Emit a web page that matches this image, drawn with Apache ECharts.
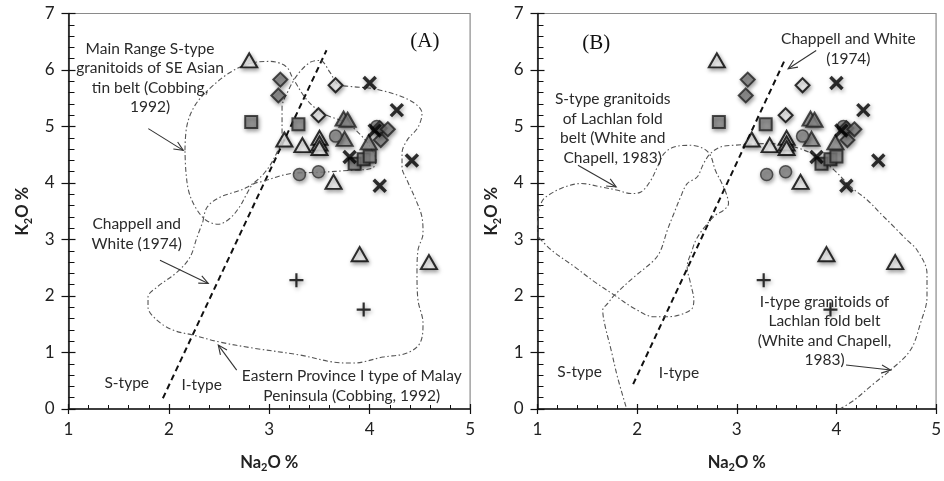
<!DOCTYPE html>
<html><head><meta charset="utf-8">
<script src="https://cdn.jsdelivr.net/npm/echarts@6/dist/echarts.min.js"></script>
<style>html,body{margin:0;padding:0;background:#fff}#c{width:944px;height:481px}</style>
</head><body><div id="c"></div>
<script>
// ---------- data (Na2O %, K2O %) ----------
const openTriangles = [[2.80,6.17],[3.15,4.77],[3.33,4.67],[3.50,4.80],[3.50,4.70],[3.50,4.62],[3.64,4.02],[3.90,2.74],[4.59,2.60]];
const grayTriangles = [[3.74,5.14],[3.78,5.12],[3.75,4.78],[3.99,4.72]];
const grayDiamonds = [[3.11,5.83],[3.09,5.55],[4.10,4.97],[4.18,4.95],[4.11,4.76]];
const openDiamonds = [[3.66,5.73],[3.49,5.20]];
const graySquares = [[2.82,5.08],[3.29,5.04],[3.85,4.34],[3.94,4.42],[4.00,4.47]];
const grayCircles = [[3.30,4.15],[3.49,4.20],[3.66,4.83],[4.07,5.00]];
const crosses = [[4.00,5.77],[4.27,5.29],[4.05,4.93],[3.80,4.46],[4.42,4.40],[4.10,3.95]];
const plusSigns = [[3.27,2.28],[3.94,1.76]];

// Chappell and White (1974) divide
const chappellWhiteA = [[1.94,0.19],[3.57,6.35]];
const chappellWhiteB = [[1.96,0.44],[3.48,6.17]];

// field outlines
const mainRangeA = [[2.160,4.578],[2.180,5.020],[2.260,5.374],[2.409,5.675],[2.609,5.957],[2.808,6.116],[3.007,6.152],[3.166,6.063],[3.236,5.851],[3.379,5.462],[3.535,5.233],[3.774,5.056],[3.933,4.808],[4.023,4.578],[4.063,4.402],[4.023,4.260],[3.804,4.225],[3.505,4.189],[3.236,4.172],[2.937,4.030],[2.838,3.977],[2.768,3.783],[2.708,3.588],[2.609,3.376],[2.489,3.270],[2.370,3.341],[2.270,3.553],[2.200,3.836],[2.170,4.190],[2.160,4.578]];
const easternA = [[2.340,3.323],[2.380,3.571],[2.509,3.748],[2.778,3.924],[2.957,4.190],[3.077,4.543],[3.127,4.808],[3.127,5.339],[3.176,5.586],[3.276,5.904],[3.405,6.134],[3.505,6.169],[3.605,5.957],[3.684,5.745],[3.804,5.710],[4.073,5.657],[4.401,5.462],[4.521,5.233],[4.481,4.985],[4.372,4.755],[4.322,4.525],[4.322,4.278],[4.372,4.048],[4.461,3.695],[4.521,3.394],[4.531,3.111],[4.481,2.811],[4.471,2.404],[4.481,1.927],[4.531,1.520],[4.501,1.167],[4.372,0.990],[4.133,0.919],[3.834,0.813],[3.635,0.831],[3.306,0.955],[2.838,1.078],[2.509,1.184],[2.240,1.308],[2.041,1.397],[1.881,1.573],[1.792,1.803],[1.792,1.980],[1.881,2.157],[2.081,2.422],[2.210,2.687],[2.280,3.040],[2.340,3.323]];
const lachlanSB = [[1.008,3.046],[1.000,3.340],[1.042,3.665],[1.108,3.783],[1.274,3.930],[1.440,3.990],[1.639,3.930],[1.805,3.871],[1.938,3.813],[2.038,3.841],[2.137,4.048],[2.203,4.283],[2.270,4.520],[2.370,4.637],[2.536,4.667],[2.668,4.608],[2.735,4.490],[2.785,4.225],[2.851,3.990],[2.900,3.783],[2.917,3.636],[2.868,3.518],[2.785,3.429],[2.668,3.200],[2.589,2.987],[2.552,2.811],[2.502,2.515],[2.536,2.222],[2.569,1.927],[2.536,1.750],[2.303,1.632],[2.170,1.632],[1.971,1.780],[1.772,2.015],[1.573,2.250],[1.374,2.515],[1.141,2.811],[1.008,3.046]];
const lachlanIB = [[1.888,0.041],[1.802,0.571],[1.739,1.043],[1.672,1.520],[1.655,1.750],[1.705,1.868],[1.772,2.015],[1.971,2.339],[2.170,2.634],[2.237,2.811],[2.303,3.164],[2.370,3.465],[2.436,3.753],[2.502,3.990],[2.602,4.106],[2.668,4.349],[2.735,4.520],[2.835,4.637],[2.967,4.667],[3.316,4.697],[3.582,4.637],[3.814,4.460],[3.980,4.225],[4.145,3.930],[4.312,3.695],[4.444,3.459],[4.578,3.223],[4.710,2.987],[4.810,2.811],[4.909,2.399],[4.909,1.985],[4.843,1.515],[4.743,1.043],[4.544,0.690],[4.378,0.454],[4.179,0.159],[4.046,0.012]];

// annotations [x, y, text]
const labelsA = [
  [1.812,5.86,'Main Range S-type\ngranitoids of SE Asian\ntin belt (Cobbing,\n1992)'],
  [1.679,3.094,'Chappell and\nWhite (1974)'],
  [1.580,0.454,'S-type'],
  [2.327,0.424,'I-type'],
  [3.821,0.410,'Eastern Province I type of Malay\nPeninsula (Cobbing, 1992)']
];
const labelsB = [
  [4.120,6.376,'Chappell and White\n(1974)'],
  [1.755,4.961,'S-type granitoids\nof Lachlan fold\nbelt (White and\nChapell, 1983)'],
  [1.423,0.659,'S-type'],
  [2.419,0.631,'I-type'],
  [3.880,1.382,'I-type granitoids of\nLachlan fold belt\n(White and Chapell,\n1983)']
];
const panelTags = [[4.55,6.505,'(A)'],[1.59,6.465,'(B)']];
// arrows [x0,y0,x1,y1] (head at x1,y1)
const arrowsA = [[1.795,4.962,2.143,4.578],[1.911,2.634,2.392,2.222],[2.675,0.689,2.492,1.131]];
const arrowsB = [[3.797,6.346,3.515,6.023],[1.406,4.313,1.789,3.930],[4.096,0.778,4.544,0.689]];

const xTicks = {min:1,max:5,interval:1};
const yTicks = {min:0,max:7,interval:1};

// ---------- chart ----------
const FONT = 'Lato, "Open Sans", sans-serif';
const chart = echarts.init(document.getElementById('c'));
const shadow = {shadowBlur:4, shadowColor:'rgba(0,0,0,0.45)', shadowOffsetX:1, shadowOffsetY:2};

function grid(left){ return {left:left, top:13.5, width:401.6, height:395.5, show:true, borderColor:'#8a8a8a', borderWidth:1.2, backgroundColor:'#fff', containLabel:false}; }

const nameRich = {b:{fontSize:16.5, fontWeight:'bold', fontFamily:FONT, color:'#222', lineHeight:21}, s:{fontSize:11, fontWeight:'bold', fontFamily:FONT, color:'#222', verticalAlign:'bottom', lineHeight:13}};

function xAxes(g){
  const base = {type:'value', gridIndex:g, min:xTicks.min, max:xTicks.max, interval:xTicks.interval, position:'bottom', splitLine:{show:false}};
  return [
    Object.assign({}, base, {
      axisLine:{show:true, onZero:false, lineStyle:{color:'#111', width:1.5}},
      axisTick:{show:true, inside:true, length:5, lineStyle:{color:'#111', width:1.2}},
      minorTick:{show:true, splitNumber:5, length:4, lineStyle:{color:'#111', width:1}},
      axisLabel:{show:true, margin:12, fontSize:17, color:'#222', fontFamily:FONT},
      name:'{b|Na}{s|2}{b|O %}', nameLocation:'middle', nameGap:43,
      nameTextStyle:{rich:nameRich}
    }),
    Object.assign({}, base, {
      axisLine:{show:false, onZero:false},
      axisTick:{show:true, inside:false, length:5, lineStyle:{color:'#111', width:1.2}},
      axisLabel:{show:false}
    })
  ];
}
function yAxes(g){
  const base = {type:'value', gridIndex:g, min:yTicks.min, max:yTicks.max, interval:yTicks.interval, position:'left', splitLine:{show:false}};
  return [
    Object.assign({}, base, {
      axisLine:{show:true, onZero:false, lineStyle:{color:'#111', width:1.5}},
      axisTick:{show:true, inside:true, length:7, lineStyle:{color:'#111', width:1.2}},
      minorTick:{show:true, splitNumber:5, length:6, lineStyle:{color:'#111', width:1}},
      axisLabel:{show:true, margin:14, fontSize:17, color:'#222', fontFamily:FONT},
      name:'{b|K}{s|2}{b|O %}', nameLocation:'middle', nameGap:35,
      nameTextStyle:{rich:nameRich}
    }),
    Object.assign({}, base, {
      axisLine:{show:false, onZero:false},
      axisTick:{show:true, inside:false, length:7, lineStyle:{color:'#111', width:1.2}},
      axisLabel:{show:false}
    })
  ];
}

function scatter(g, data, symbol, size, style, z){
  return {type:'scatter', xAxisIndex:g*2, yAxisIndex:g*2, data:data, symbol:symbol, symbolSize:size,
    itemStyle:Object.assign({}, shadow, style), z:z||3, silent:true, animation:false};
}
function outline(g, data, smooth){
  return {type:'line', xAxisIndex:g*2, yAxisIndex:g*2, data:data, showSymbol:false, symbol:'none', smooth:smooth,
    lineStyle:{color:'#555', width:1.1, type:[5,2.5,1.5,2.5]}, z:2, silent:true, animation:false};
}
function divide(g, data){
  return {type:'line', xAxisIndex:g*2, yAxisIndex:g*2, data:data, showSymbol:false, symbol:'none',
    lineStyle:{color:'#111', width:2, type:[6,4]}, z:2, silent:true, animation:false};
}
function texts(g, items, font, lh, color){
  return {type:'custom', xAxisIndex:g*2, yAxisIndex:g*2, data:items.map(t=>[t[0],t[1]]), silent:true, animation:false, z:6, clip:false,
    renderItem:(p,api)=>{
      const t = items[p.dataIndex];
      const c = api.coord([api.value(0), api.value(1)]);
      return {type:'text', x:c[0], y:c[1], style:{text:t[2], fill:color, font:font, align:'center', verticalAlign:'middle', lineHeight:lh}};
    }};
}
function arrows(g, items){
  return {type:'custom', xAxisIndex:g*2, yAxisIndex:g*2, data:items, silent:true, animation:false, z:6, clip:false,
    renderItem:(p,api)=>{
      const a = api.coord([api.value(0), api.value(1)]);
      const b = api.coord([api.value(2), api.value(3)]);
      const ang = Math.atan2(b[1]-a[1], b[0]-a[0]);
      const L = 10, w = 0.42;
      const h1 = [b[0]-L*Math.cos(ang-w), b[1]-L*Math.sin(ang-w)];
      const h2 = [b[0]-L*Math.cos(ang+w), b[1]-L*Math.sin(ang+w)];
      return {type:'group', children:[
        {type:'line', shape:{x1:a[0], y1:a[1], x2:b[0], y2:b[1]}, style:{stroke:'#333', lineWidth:1.1}},
        {type:'polyline', shape:{points:[h1, b, h2]}, style:{stroke:'#333', lineWidth:1.1, fill:null}}
      ]};
    }};
}

function panelSeries(g, div, fields, labels, arrs, tag){
  const s = [];
  s.push(divide(g, div));
  fields.forEach(f => s.push(outline(g, f, 0.35)));
  s.push(scatter(g, openTriangles, 'triangle', [16,14], {color:'#fff', borderColor:'#000', borderWidth:2}, 3));
  s.push(scatter(g, grayTriangles, 'triangle', [16,14], {color:'#9a9a9a', borderColor:'#222', borderWidth:2}, 3));
  s.push(scatter(g, graySquares, 'rect', 12, {color:'#8c8c8c', borderColor:'#222', borderWidth:2}, 3));
  s.push(scatter(g, grayCircles, 'circle', 12, {color:'#8a8a8a', borderColor:'#333', borderWidth:1.5}, 3));
  s.push(scatter(g, grayDiamonds, 'diamond', 14, {color:'#8a8a8a', borderColor:'#222', borderWidth:2}, 4));
  s.push(scatter(g, openDiamonds, 'diamond', 14, {color:'#fff', borderColor:'#000', borderWidth:2}, 4));
  s.push(scatter(g, crosses, 'path://M0,0L10,10M10,0L0,10', 12, {color:'none', borderColor:'#000', borderWidth:3.5}, 4));
  s.push(scatter(g, plusSigns, 'path://M5,0L5,10M0,5L10,5', 14, {color:'rgba(0,0,0,0)', borderColor:'#000', borderWidth:2.2}, 4));
  s.push(texts(g, labels, '15.5px ' + FONT, 19.5, '#2a2a2a'));
  s.push(texts(g, [tag], '21px "Liberation Serif", "Times New Roman", serif', 22, '#111'));
  s.push(arrows(g, arrs));
  return s;
}

const option = {
  backgroundColor:'#fff',
  animation:false,
  grid:[grid(68.5), grid(537.5)],
  xAxis:[...xAxes(0), ...xAxes(1)],
  yAxis:[...yAxes(0), ...yAxes(1)],
  series:[
    ...panelSeries(0, chappellWhiteA, [mainRangeA, easternA], labelsA, arrowsA, panelTags[0]),
    ...panelSeries(1, chappellWhiteB, [lachlanSB, lachlanIB], labelsB, arrowsB, panelTags[1])
  ]
};
chart.setOption(option);
</script></body></html>
